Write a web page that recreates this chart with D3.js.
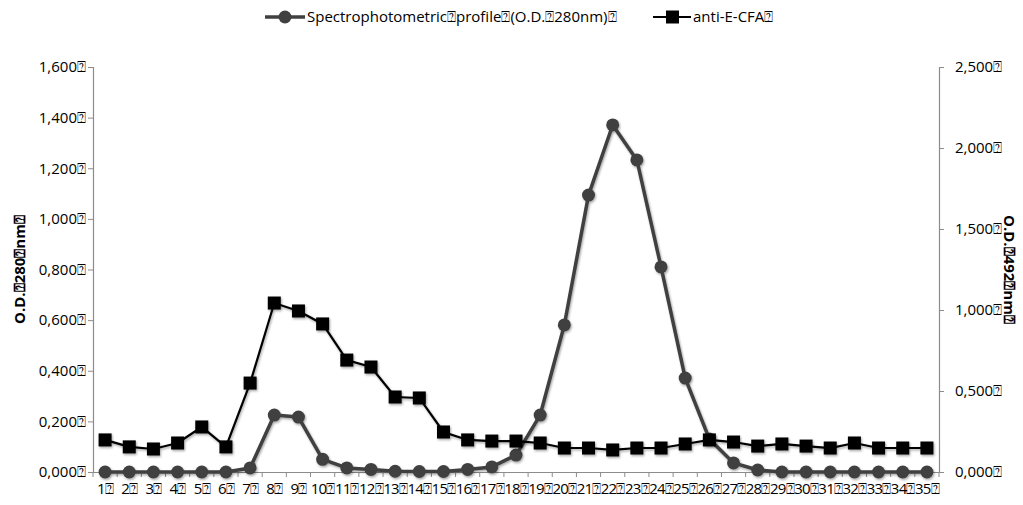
<!DOCTYPE html>
<html>
<head>
<meta charset="utf-8">
<script src="https://cdn.jsdelivr.net/npm/d3@7"></script>
<style>
  body { margin: 0; background: #fff; }
  svg text { font-family: "Open Sans", "Liberation Sans", sans-serif; fill: #000; }
</style>
</head>
<body>
<svg id="chart"></svg>
<script>
// missing-glyph box that shows up after every label in the original
var Q = "\u2370";

var categories = d3.range(1, 36).map(function (d) { return d + Q; });

// O.D. 280nm, left axis
var profile = [0, 0, 0, 0, 0, 0, 0.016, 0.225, 0.217, 0.05, 0.016, 0.01, 0.003, 0.002, 0.002,
    0.01, 0.02, 0.067, 0.225, 0.581, 1.094, 1.371, 1.233, 0.81, 0.371, 0.13, 0.036, 0.008,
    0, 0, 0, 0, 0, 0, 0];

// anti-E-CFA, O.D. 492nm, right axis
var antiCfa = [0.198, 0.155, 0.142, 0.179, 0.278, 0.155, 0.549, 1.043, 0.994, 0.914, 0.691,
    0.648, 0.463, 0.457, 0.247, 0.198, 0.191, 0.191, 0.179, 0.148, 0.148, 0.136, 0.148,
    0.148, 0.173, 0.198, 0.185, 0.16, 0.173, 0.16, 0.148, 0.179, 0.148, 0.148, 0.148];

var leftTicks = [0, 0.2, 0.4, 0.6, 0.8, 1.0, 1.2, 1.4, 1.6];
var rightTicks = [0, 0.5, 1.0, 1.5, 2.0, 2.5];

var seriesNames = ["Spectrophotometric" + Q + "profile" + Q + "(O.D." + Q + "280nm)" + Q, "anti-E-CFA" + Q];
var leftTitle = "O.D." + Q + "280" + Q + "nm" + Q;
var rightTitle = "O.D." + Q + "492" + Q + "nm" + Q;

var width = 1023,
    height = 505,
    margin = {top: 67, right: 84, bottom: 33, left: 93};

var fontSize = 15;

var svg = d3.select("#chart")
    .attr("width", width)
    .attr("height", height);

var defs = svg.append("defs");
var shadow = defs.append("filter").attr("id", "shadow")
    .attr("x", "-50%").attr("y", "-50%").attr("width", "200%").attr("height", "200%");
shadow.append("feDropShadow")
    .attr("dx", 1).attr("dy", 1.5).attr("stdDeviation", 1.2)
    .attr("flood-color", "#000").attr("flood-opacity", 0.35);

var x = d3.scaleBand()
    .domain(categories)
    .range([margin.left, width - margin.right]);

var yL = d3.scaleLinear().domain([0, 1.6]).range([height - margin.bottom, margin.top]);
var yR = d3.scaleLinear().domain([0, 2.5]).range([height - margin.bottom, margin.top]);

function fmt(v) {
    return v.toFixed(3).replace(".", ",") + Q;
}

var axisColor = "#8c8c8c";

// left axis
var gL = svg.append("g")
    .attr("transform", "translate(" + margin.left + ",0)")
    .call(d3.axisLeft(yL).tickValues(leftTicks).tickFormat(fmt).tickSizeOuter(0).tickSize(5).tickPadding(2));

// right axis
var gR = svg.append("g")
    .attr("transform", "translate(" + (width - margin.right) + ",0)")
    .call(d3.axisRight(yR).tickValues(rightTicks).tickFormat(fmt).tickSizeOuter(0).tickSize(5).tickPadding(11));

// bottom axis, ticks sit between categories
var gX = svg.append("g")
    .attr("transform", "translate(0," + (height - margin.bottom) + ")")
    .call(d3.axisBottom(x).tickSize(0).tickPadding(11));

var bounds = categories.map(function (c) { return x(c); }).concat([width - margin.right]);
gX.selectAll(".sep").data(bounds).enter()
    .append("line")
    .attr("x1", function (d) { return d; })
    .attr("x2", function (d) { return d; })
    .attr("y1", 0).attr("y2", 5)
    .attr("stroke", axisColor);

[gL, gR, gX].forEach(function (g) {
    g.select(".domain").attr("stroke", axisColor).attr("stroke-width", 1.2);
    g.selectAll(".tick line").attr("stroke", axisColor);
    g.selectAll("text").attr("font-size", fontSize).attr("fill", "#000")
        .attr("font-family", "'Open Sans', 'Liberation Sans', sans-serif");
});
gX.selectAll("text").attr("letter-spacing", -0.8);

// axis titles
svg.append("text")
    .attr("transform", "translate(20," + ((margin.top + height - margin.bottom) / 2) + ") rotate(-90)")
    .attr("text-anchor", "middle")
    .attr("dy", "0.35em")
    .attr("font-size", fontSize)
    .attr("font-weight", "bold")
    .text(leftTitle);

svg.append("text")
    .attr("transform", "translate(1009," + ((margin.top + height - margin.bottom) / 2) + ") rotate(90)")
    .attr("text-anchor", "middle")
    .attr("dy", "0.35em")
    .attr("font-size", fontSize)
    .attr("font-weight", "bold")
    .text(rightTitle);

function cx(d, i) { return x(categories[i]) + x.bandwidth() / 2; }

// series 1: gray line with circles
var lineL = d3.line().x(cx).y(function (d) { return yL(d); });
var s1 = svg.append("g").attr("filter", "url(#shadow)");
s1.append("path")
    .datum(profile)
    .attr("d", lineL)
    .attr("fill", "none")
    .attr("stroke", "#404040")
    .attr("stroke-width", 3.5)
    .attr("stroke-linejoin", "round");
s1.selectAll("circle").data(profile).enter()
    .append("circle")
    .attr("cx", cx)
    .attr("cy", function (d) { return yL(d); })
    .attr("r", 6.5)
    .attr("fill", "#404040");

// series 2: black line with squares
var lineR = d3.line().x(cx).y(function (d) { return yR(d); });
var s2 = svg.append("g").attr("filter", "url(#shadow)");
s2.append("path")
    .datum(antiCfa)
    .attr("d", lineR)
    .attr("fill", "none")
    .attr("stroke", "#000")
    .attr("stroke-width", 2.2);
s2.selectAll("rect").data(antiCfa).enter()
    .append("rect")
    .attr("x", function (d, i) { return cx(d, i) - 6.5; })
    .attr("y", function (d) { return yR(d) - 6.5; })
    .attr("width", 13)
    .attr("height", 13)
    .attr("fill", "#000");

// legend
var legend = svg.append("g").attr("transform", "translate(0,17)");
var leg1 = legend.append("g").attr("transform", "translate(265,0)");
leg1.append("line").attr("x1", 0).attr("x2", 40).attr("stroke", "#404040").attr("stroke-width", 3.5);
leg1.append("circle").attr("cx", 20).attr("r", 6.5).attr("fill", "#404040");
leg1.append("text").attr("x", 42).attr("dy", "0.35em").attr("font-size", fontSize).text(seriesNames[0]);

var leg2 = legend.append("g").attr("transform", "translate(653,0)");
leg2.append("line").attr("x1", 0).attr("x2", 38).attr("stroke", "#000").attr("stroke-width", 2.2);
leg2.append("rect").attr("x", 13).attr("y", -6.5).attr("width", 13).attr("height", 13).attr("fill", "#000");
leg2.append("text").attr("x", 40).attr("dy", "0.35em").attr("font-size", fontSize).text(seriesNames[1]);
</script>
</body>
</html>
